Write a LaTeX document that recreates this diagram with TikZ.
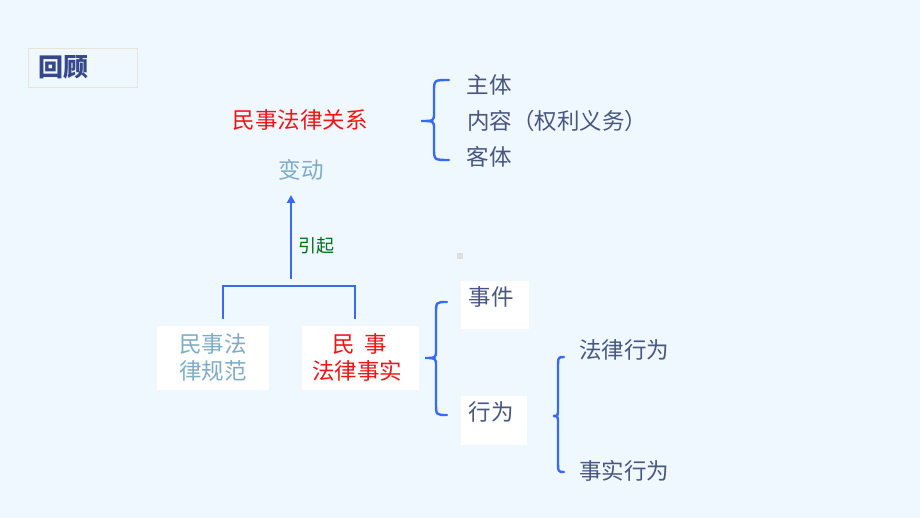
\documentclass[tikz,border=0pt]{standalone}
\usepackage{fontspec}
\setmainfont{Noto Sans CJK SC}
\newfontfamily\cjk{Noto Sans CJK SC}
\usetikzlibrary{arrows.meta}
\definecolor{bgcol}{RGB}{239,247,255}
\definecolor{boxline}{RGB}{232,228,220}
\definecolor{titlecol}{RGB}{55,72,138}
\definecolor{txtcol}{RGB}{72,86,128}
\definecolor{palecol}{RGB}{125,172,198}
\definecolor{redcol}{RGB}{240,20,20}
\definecolor{greencol}{RGB}{0,110,20}
\definecolor{bluecol}{RGB}{55,105,250}
\tikzset{
  txt/.style={inner sep=0pt, font=\cjk\fontsize{22.5}{27}\selectfont, text=txtcol, align=center},
  whitebox/.style={fill=white, draw=none, inner sep=0pt},
  bracestyle/.style={draw=bluecol, line width=2.4pt, line cap=round},
  linkline/.style={draw=bluecol, line width=2.8pt},
}
\newcommand{\mybrace}[6]{% xr, xm, xt, ytop, ymid, ybot
  \draw[bracestyle] (#1,#4) .. controls (#2,#4) .. (#2,#4+12) -- (#2,#5-8)
     .. controls (#2,#5) .. (#3,#5) .. controls (#2,#5) .. (#2,#5+8) -- (#2,#6-12)
     .. controls (#2,#6) .. (#1,#6);}
\begin{document}
\begin{tikzpicture}[x=1pt,y=-1pt]
\fill[bgcol] (0,0) rectangle (920,518);
\useasboundingbox (0,0) rectangle (920,518);
% review box
\node[draw=boxline, line width=0.8pt, minimum width=109pt, minimum height=39pt, inner sep=0pt] (reviewbox) at (82.5,67.5) {};
\node[inner sep=0pt, font=\cjk\bfseries\fontsize{25}{30}\selectfont, text=titlecol] (review) at (63,67) {回顾};
% top
\node[txt, text=redcol] (relation) at (300,120) {民事法律关系};
\node[txt, text=palecol] (change) at (301,170) {变动};
\node[txt] (subject) at (489,85) {主体};
\node[txt, anchor=west] (content) at (467,121) {内容（权利义务）};
\node[txt] (object) at (489,157) {客体};
\mybrace{449}{434}{421}{80}{121}{160}
% arrow
\coordinate (arrowfoot) at (291,279);
\coordinate (arrowhead) at (291,195);
\draw[linkline, -{Triangle[length=8pt,width=8pt]}] (arrowfoot) -- (arrowhead);
\node[inner sep=0pt, font=\cjk\fontsize{18}{22}\selectfont, text=greencol] (cause) at (316,246) {引起};
% boxes
\node[whitebox, minimum width=112pt, minimum height=64pt] (normbox) at (213,358) {};
\node[whitebox, minimum width=117pt, minimum height=64pt] (factbox) at (360.5,358) {};
\node[txt, text=palecol] (norm) at (213,357.5) {民事法\\律规范};
\node[txt, text=redcol] (fact) at (357,357.5) {\hspace*{5pt}民\hspace{10pt}事\\法律事实};
% tree
\coordinate (lt) at (223,286);
\coordinate (rt) at (355,286);
\coordinate (lb) at (223,319);
\coordinate (rb) at (355,319);
\draw[linkline] (lb) -- (lt) -- (rt) -- (rb);
% events / acts
\node[whitebox, minimum width=68pt, minimum height=48pt] (eventbox) at (495,305) {};
\node[whitebox, minimum width=66pt, minimum height=49pt] (actbox) at (494,420.5) {};
\node[txt] (event) at (491,297) {事件};
\node[txt] (act) at (491,412) {行为};
\mybrace{447}{436}{425}{302}{358}{415}
\mybrace{564}{558}{553}{357}{416}{472}
\node[txt] (legalact) at (624,350) {法律行为};
\node[txt] (factact) at (624,471) {事实行为};
% small mark
\fill[gray!25] (457,253) rectangle (463,259);
\end{tikzpicture}
\end{document}
